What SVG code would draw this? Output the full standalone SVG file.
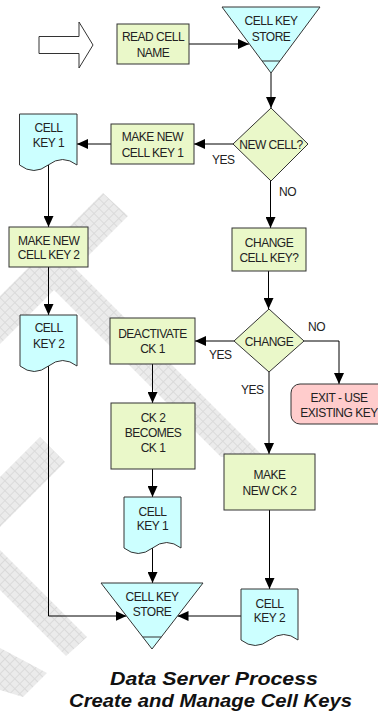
<svg xmlns="http://www.w3.org/2000/svg" width="378" height="718" viewBox="0 0 378 718">
<style>
text{font-family:"Liberation Sans",Arial,sans-serif;font-size:12px;fill:#222;text-anchor:middle;letter-spacing:-0.5px}
.proc{fill:#eaf8c9;stroke:#333;stroke-width:1}
.store{fill:#ccffff;stroke:#333;stroke-width:1}
.exit{fill:#ffcccc;stroke:#333;stroke-width:1}
.lbl{text-anchor:start}
.conn{fill:none;stroke:#000;stroke-width:1;marker-end:url(#ah)}
.title{font-size:19px;font-weight:bold;font-style:italic;fill:#111;text-anchor:start;letter-spacing:0}
.wm{fill:url(#hatch);stroke:none}
</style>
<defs>
<marker id="ah" viewBox="0 0 11 10" refX="11" refY="5" markerWidth="11" markerHeight="10" markerUnits="userSpaceOnUse" orient="auto">
<path d="M0,0 L11,5 L0,10 Z" fill="#000"/>
</marker>
<pattern id="hatch" width="7" height="7" patternUnits="userSpaceOnUse" patternTransform="rotate(45)">
<rect width="7" height="7" fill="#ebebeb"/>
<path d="M0,0.5 H7 M0.5,0 V7" stroke="#dadada" stroke-width="1"/>
</pattern>
</defs>

<g id="watermark">
<polygon class="wm" points="103,193 128,216 75.5,268.5 264,457 221,457 54,290 0,344 0,296"/>
<polygon class="wm" points="40,437 65,462 0,527 0,477"/>
<polygon class="wm" points="0,550 87,637 66,656 0,590"/>
<polygon class="wm" points="0,648 47,673 23,697 0,690"/>
</g>

<g id="connectors">
<path class="conn" d="M189,44 H249"/>
<path class="conn" d="M271,73 V108"/>
<path class="conn" d="M233,144 H194"/>
<path class="conn" d="M111,144 H77"/>
<path class="conn" d="M48.5,165 V227"/>
<path class="conn" d="M270.5,181 V228"/>
<path class="conn" d="M268.5,271 V309"/>
<path class="conn" d="M48.5,267 V315"/>
<path class="conn" d="M234,341 H195"/>
<path class="conn" d="M304,341 H339 V384"/>
<path class="conn" d="M269,372 V454"/>
<path class="conn" d="M152.5,364 V403"/>
<path class="conn" d="M152.5,469 V497"/>
<path class="conn" d="M152.5,548 V583"/>
<path class="conn" d="M48.5,366 V616 H126.5"/>
<path class="conn" d="M269.5,510 V589"/>
<path class="conn" d="M241,616 H177.5"/>
</g>

<g id="start-arrow">
<path d="M39,36.5 H79 V22 L93,45 L79,68 V53.5 H39 Z" fill="#fff" stroke="#333" stroke-width="1"/>
</g>

<g id="read-cell-name">
<rect class="proc" x="117" y="24" width="72" height="40"/>
<text x="153" y="41">READ CELL</text>
<text x="153" y="57">NAME</text>
</g>

<g id="cell-key-store-top">
<path class="store" d="M222,7 H320 L271,73 Z"/>
<line x1="262.1" y1="61" x2="279.9" y2="61" stroke="#333" stroke-width="1"/>
<text x="271" y="25">CELL KEY</text>
<text x="271" y="40.7">STORE</text>
</g>

<g id="new-cell">
<path class="proc" d="M271,108 L308,144 L271,181 L233,144 Z"/>
<text x="271" y="149">NEW CELL?</text>
</g>

<g id="make-new-cell-key-1">
<rect class="proc" x="111" y="124" width="83" height="40"/>
<text x="152.5" y="140.7">MAKE NEW</text>
<text x="152.5" y="156.7">CELL KEY 1</text>
</g>

<g id="cell-key-1-doc">
<path class="store" d="M19.5,114 H77 V165 Q62.6,154 48.2,165 Q33.9,176 19.5,165 Z"/>
<text x="48.5" y="132.3">CELL</text>
<text x="48.5" y="147.3">KEY 1</text>
</g>

<g id="make-new-cell-key-2">
<rect class="proc" x="9" y="227" width="79" height="40"/>
<text x="48.7" y="245">MAKE NEW</text>
<text x="48.7" y="259.3">CELL KEY 2</text>
</g>

<g id="change-cell-key">
<rect class="proc" x="232" y="228" width="74" height="43"/>
<text x="269" y="247.3">CHANGE</text>
<text x="269" y="262.3">CELL KEY?</text>
</g>

<g id="cell-key-2-doc">
<path class="store" d="M20,315 H77 V366 Q62.7,355 48.5,366 Q34.2,377 20,366 Z"/>
<text x="48.7" y="332.3">CELL</text>
<text x="48.7" y="347.7">KEY 2</text>
</g>

<g id="change">
<path class="proc" d="M269,309 L304,341 L269,372 L234,341 Z"/>
<text x="269" y="345.5">CHANGE</text>
</g>

<g id="deactivate-ck1">
<rect class="proc" x="110" y="318" width="85" height="46"/>
<text x="152.5" y="338.3">DEACTIVATE</text>
<text x="152.5" y="353.3">CK 1</text>
</g>

<g id="exit">
<rect class="exit" x="291" y="384" width="96" height="40" rx="9"/>
<text x="339" y="401.7">EXIT - USE</text>
<text x="339" y="416.7">EXISTING KEY</text>
</g>

<g id="ck2-becomes-ck1">
<rect class="proc" x="111" y="403" width="84" height="66"/>
<text x="153" y="421.7">CK 2</text>
<text x="153" y="436.7">BECOMES</text>
<text x="153" y="451.5">CK 1</text>
</g>

<g id="make-new-ck2">
<rect class="proc" x="224" y="454" width="91" height="56"/>
<text x="269.5" y="479.3">MAKE</text>
<text x="269.5" y="495">NEW CK 2</text>
</g>

<g id="cell-key-1-doc-b">
<path class="store" d="M124,497 H181 V548 Q166.7,537 152.5,548 Q138.2,559 124,548 Z"/>
<text x="152.5" y="515.7">CELL</text>
<text x="152.5" y="530.3">KEY 1</text>
</g>

<g id="cell-key-store-bottom">
<path class="store" d="M101,583 H203 L152,649 Z"/>
<line x1="142.7" y1="637" x2="161.3" y2="637" stroke="#333" stroke-width="1"/>
<text x="152" y="600.7">CELL KEY</text>
<text x="152" y="616">STORE</text>
</g>

<g id="cell-key-2-doc-b">
<path class="store" d="M241,589 H298 V640 Q283.7,629 269.5,640 Q255.2,651 241,640 Z"/>
<text x="269.5" y="607.7">CELL</text>
<text x="269.5" y="622.3">KEY 2</text>
</g>

<g id="labels">
<text class="lbl" x="212" y="164.3">YES</text>
<text class="lbl" x="279" y="195.7">NO</text>
<text class="lbl" x="308" y="331">NO</text>
<text class="lbl" x="209" y="359.3">YES</text>
<text class="lbl" x="241" y="394.3">YES</text>
</g>

<g id="title">
<text class="title" x="110" y="685" textLength="208" lengthAdjust="spacingAndGlyphs">Data Server Process</text>
<text class="title" x="69" y="707" textLength="283" lengthAdjust="spacingAndGlyphs">Create and Manage Cell Keys</text>
</g>
</svg>
